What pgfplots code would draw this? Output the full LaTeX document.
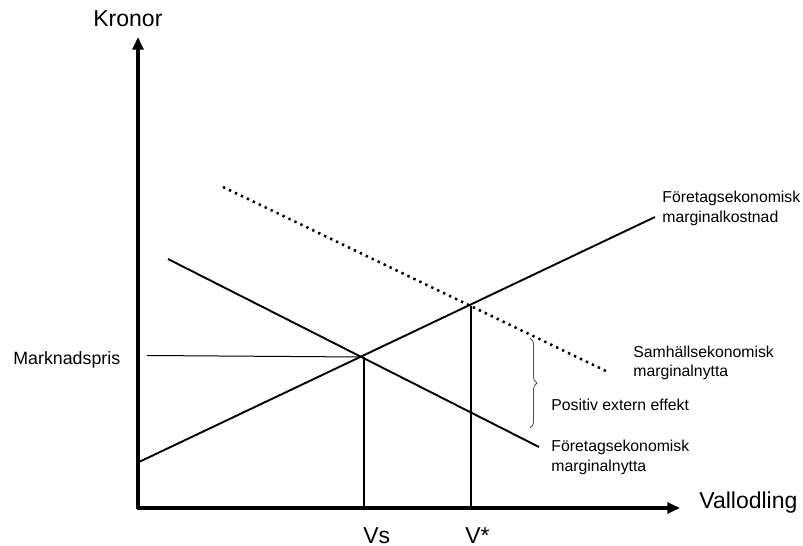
\documentclass[border=0pt]{standalone}
\usepackage{fontspec}
\setmainfont{Liberation Sans}
\usepackage{pgfplots}
\pgfplotsset{compat=1.18}
\usetikzlibrary{decorations.pathreplacing, arrows.meta}

\begin{document}
\begin{tikzpicture}
\begin{axis}[scale only axis, width=401.5pt, height=273pt,
  xmin=0, xmax=803, ymin=0, ymax=546, hide axis, clip=false]
\path (axis cs:0,0) rectangle (axis cs:803,546);
% axes
\addplot[line width=1.6pt, -{Triangle[length=6.3pt,width=5.4pt]}] coordinates {(138,37.2) (138,509)};
\addplot[line width=1.6pt, -{Triangle[length=6.3pt,width=5.4pt]}] coordinates {(137.2,38) (680,38)};
% firm marginal cost (supply)
\addplot[line width=0.95pt] coordinates {(139,84) (655,329)};
% firm marginal benefit (demand)
\addplot[line width=0.95pt] coordinates {(168,287) (539,99)};
% social marginal benefit (dotted)
\addplot[line width=1.25pt, dash pattern=on 1.2pt off 2.1pt] coordinates {(223,359) (608,174)};
% verticals
\addplot[line width=1.4pt] coordinates {(364,189) (364,38)};
\addplot[line width=1.4pt] coordinates {(471,240) (471,38)};
% market price line
\addplot[line width=0.5pt] coordinates {(147,190.5) (361,189)};
% brace
\draw[gray!60!black, line width=0.4pt, decorate, decoration={brace, amplitude=3.5pt}]
  (axis cs:530,208) -- (axis cs:530,118);
% labels
\node[anchor=base west, inner sep=0pt, font=\fontsize{11.5pt}{13pt}\selectfont] at (axis cs:93,519) {Kronor};
\node[anchor=base west, inner sep=0pt, font=\fontsize{11.5pt}{13pt}\selectfont] at (axis cs:699,37) {Vallodling};
\node[anchor=base west, inner sep=0pt, font=\fontsize{11.5pt}{13pt}\selectfont] at (axis cs:363,3) {Vs};
\node[anchor=base west, inner sep=0pt, font=\fontsize{11.5pt}{13pt}\selectfont] at (axis cs:465,3) {V*};
\node[anchor=base west, inner sep=0pt, font=\fontsize{8.9pt}{10pt}\selectfont] at (axis cs:13,181) {Marknadspris};
\node[anchor=base west, inner sep=0pt, font=\fontsize{7.9pt}{9pt}\selectfont] at (axis cs:662,343) {Företagsekonomisk};
\node[anchor=base west, inner sep=0pt, font=\fontsize{7.9pt}{9pt}\selectfont] at (axis cs:662,323) {marginalkostnad};
\node[anchor=base west, inner sep=0pt, font=\fontsize{7.9pt}{9pt}\selectfont] at (axis cs:633,188) {Samhällsekonomisk};
\node[anchor=base west, inner sep=0pt, font=\fontsize{7.9pt}{9pt}\selectfont] at (axis cs:633,169) {marginalnytta};
\node[anchor=base west, inner sep=0pt, font=\fontsize{7.9pt}{9pt}\selectfont] at (axis cs:551,135) {Positiv extern effekt};
\node[anchor=base west, inner sep=0pt, font=\fontsize{7.9pt}{9pt}\selectfont] at (axis cs:551,94) {Företagsekonomisk};
\node[anchor=base west, inner sep=0pt, font=\fontsize{7.9pt}{9pt}\selectfont] at (axis cs:551,74) {marginalnytta};
\end{axis}
\end{tikzpicture}
\end{document}
